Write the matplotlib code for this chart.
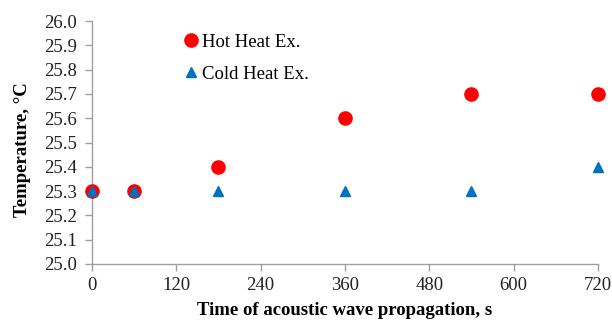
import matplotlib
matplotlib.use("Agg")
import matplotlib.pyplot as plt

times = [0, 60, 180, 360, 540, 720]
hot_temp = [25.3, 25.3, 25.4, 25.6, 25.7, 25.7]
cold_temp = [25.3, 25.3, 25.3, 25.3, 25.3, 25.4]
x_ticks = [0, 120, 240, 360, 480, 600, 720]
y_ticks = [25.0 + 0.1 * i for i in range(11)]

plt.rcParams["font.family"] = ["Liberation Serif", "DejaVu Serif"]

fig = plt.figure(figsize=(6.12, 3.2), dpi=100)
ax = fig.add_axes([0.150, 0.175, 0.827, 0.759])

ax.plot(times, hot_temp, "o", color="#FF0000", markersize=9.5, label="Hot Heat Ex.", clip_on=False, zorder=3)
ax.plot(times, cold_temp, "^", color="#0070C0", markersize=7.5, label="Cold Heat Ex.", clip_on=False, zorder=4)

ax.set_xlim(0, 720)
ax.set_ylim(25.0, 26.0)
ax.set_xticks(x_ticks)
ax.set_yticks(y_ticks)
ax.set_yticklabels([f"{v:.1f}" for v in y_ticks])

for side in ["top", "right"]:
    ax.spines[side].set_visible(False)
for side in ["left", "bottom"]:
    ax.spines[side].set_color("#A0A0A0")
    ax.spines[side].set_linewidth(1.0)
ax.tick_params(axis="both", direction="out", color="#A0A0A0", length=5, width=1.0, labelsize=13.5, colors="#A0A0A0", labelcolor="#222222")
ax.tick_params(axis="x", pad=4)
ax.tick_params(axis="y", pad=6)

ax.set_xlabel("Time of acoustic wave propagation, s", fontsize=13.5, fontweight="bold", labelpad=6)
ax.set_ylabel("Temperature, °C", fontsize=13.5, fontweight="bold")
ax.yaxis.set_label_coords(-0.12, 0.47)

ax.legend(loc="upper left", bbox_to_anchor=(0.166, 0.98), frameon=False, fontsize=13.5,
          handlelength=0.8, handletextpad=0.2, labelspacing=0.8, borderaxespad=0)

fig.savefig("out.png", dpi=100)
